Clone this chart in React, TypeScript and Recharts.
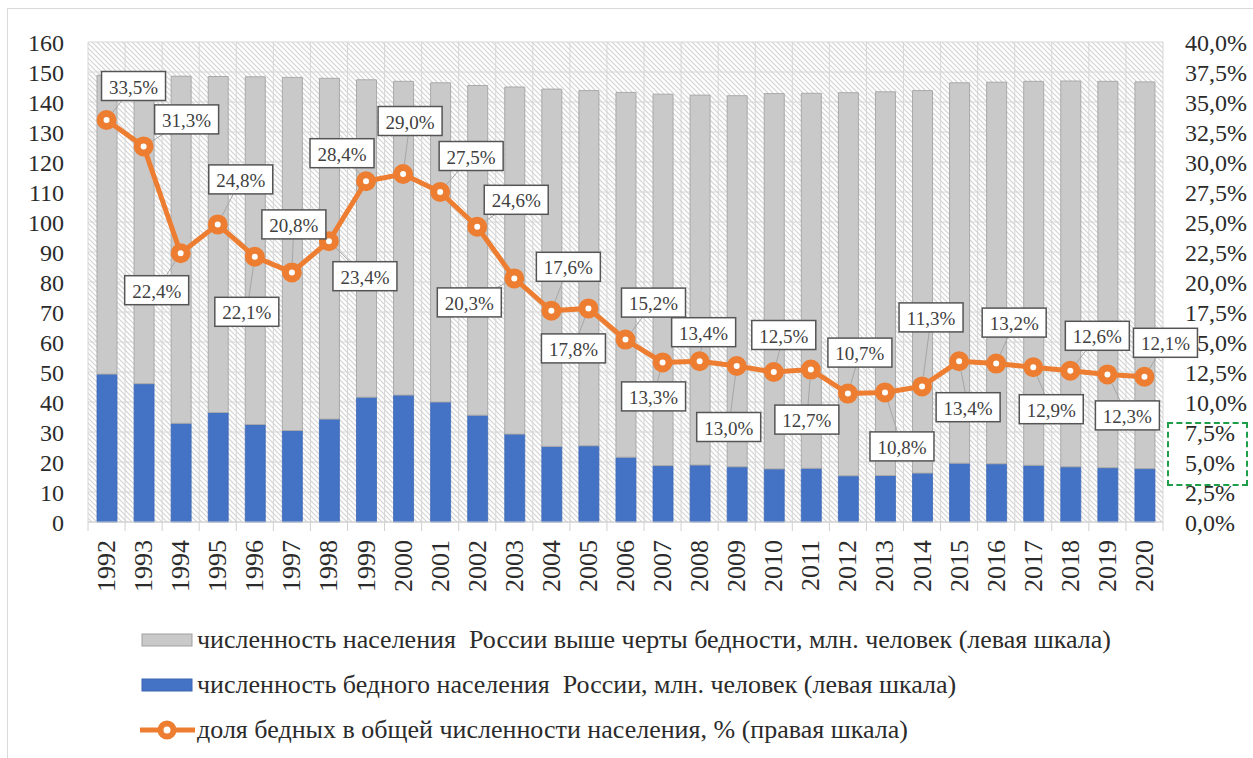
import React from 'react';
import {
  ComposedChart,
  Bar,
  Line,
  XAxis,
  YAxis,
  CartesianGrid,
  LabelList,
} from 'recharts';

const years = [
  '1992', '1993', '1994', '1995', '1996', '1997', '1998', '1999', '2000', '2001',
  '2002', '2003', '2004', '2005', '2006', '2007', '2008', '2009', '2010', '2011',
  '2012', '2013', '2014', '2015', '2016', '2017', '2018', '2019', '2020',
];

// численность бедного населения, млн. человек
const poorPop = [
  49.3, 46.1, 32.9, 36.5, 32.5, 30.5, 34.3, 41.6, 42.3, 40.0,
  35.6, 29.3, 25.2, 25.4, 21.6, 18.8, 19.0, 18.4, 17.7, 17.9,
  15.4, 15.5, 16.3, 19.6, 19.4, 18.9, 18.4, 18.1, 17.8,
];

// численность населения выше черты бедности, млн. человек
const abovePop = [
  99.6, 102.7, 115.7, 112.0, 115.9, 117.7, 113.6, 105.8, 104.6, 106.4,
  109.9, 115.7, 119.1, 118.4, 121.6, 123.8, 123.3, 123.7, 125.1, 125.0,
  127.7, 127.9, 127.5, 126.8, 127.2, 128.0, 128.6, 128.8, 128.9,
];

// доля бедных, %
const poorShare = [
  33.5, 31.3, 22.4, 24.8, 22.1, 20.8, 23.4, 28.4, 29.0, 27.5,
  24.6, 20.3, 17.6, 17.8, 15.2, 13.3, 13.4, 13.0, 12.5, 12.7,
  10.7, 10.8, 11.3, 13.4, 13.2, 12.9, 12.6, 12.3, 12.1,
];

const leftTicks = [0, 10, 20, 30, 40, 50, 60, 70, 80, 90, 100, 110, 120, 130, 140, 150, 160];
const rightTicks = [0, 2.5, 5, 7.5, 10, 12.5, 15, 17.5, 20, 22.5, 25, 27.5, 30, 32.5, 35, 37.5, 40];

const legendLabels = [
  'численность населения  России выше черты бедности, млн. человек (левая шкала)',
  'численность бедного населения  России, млн. человек (левая шкала)',
  'доля бедных в общей численности населения, % (правая шкала)',
];

// where each data label box sits relative to its point (layout only)
const LABEL_OFFSETS: [number, number][] = [
  [27, -34], [43, -27], [-24, 37], [23, -45], [-8, 55], [2, -48], [36, 35], [-24, -28], [7, -53], [31, -36],
  [39, -27], [-45, 24], [17, -44], [-15, 40], [28, -37], [-9, 34], [4, -29], [-8, 61], [10, -37], [-4, 50],
  [12, -41], [17, 54], [9, -69], [9, 46], [18, -41], [18, 42], [27, -35], [20, 41], [21, -34],
];

const data = years.map((year, i) => ({
  year,
  poor: poorPop[i],
  above: abovePop[i],
  share: poorShare[i],
}));

const W = 1253;
const H = 758;
const MARGIN = { top: 42, right: 10, bottom: 136, left: 28 };
const FONT = "'Liberation Serif', Tinos, 'DejaVu Serif', 'Noto Serif', 'Times New Roman', Times, serif";
const ORANGE = '#ED7D31';
const BLUE = '#4472C4';
const GRAY = '#C9C9C9';
const TEXT = '#2b2b2b';

const fmtPct = (v: number) => v.toFixed(1).replace('.', ',') + '%';

const PctLabel = (props: any) => {
  const { x, y, value, index } = props;
  const [dx, dy] = LABEL_OFFSETS[index] || [0, -30];
  const cx = x + dx;
  const cy = y + dy;
  const w = 64;
  const h = 29;
  const len = Math.hypot(dx, dy) || 1;
  return (
    <g>
      <line x1={x + (dx / len) * 10} y1={y + (dy / len) * 10} x2={cx} y2={cy} stroke="#a6a6a6" strokeWidth={1} />
      <rect x={cx - w / 2} y={cy - h / 2} width={w} height={h} fill="#fff" stroke="#555" strokeWidth={1.5} />
      <text x={cx} y={cy + 1} textAnchor="middle" dominantBaseline="central" style={{ fontFamily: FONT }} fontSize={19} fill="#404040">
        {fmtPct(value)}
      </text>
    </g>
  );
};

const YearTick = (props: any) => {
  const { x, y, payload, index } = props;
  const band = (W - MARGIN.left - MARGIN.right - 60 - 80) / years.length;
  const axisY = y - 18;
  return (
    <g>
      <line x1={x - band / 2} x2={x - band / 2} y1={axisY} y2={axisY + 9} stroke="#d0d0d0" />
      {index === years.length - 1 && (
        <line x1={x + band / 2} x2={x + band / 2} y1={axisY} y2={axisY + 9} stroke="#d0d0d0" />
      )}
      <text
        x={x}
        y={y}
        transform={`rotate(-90 ${x} ${y})`}
        textAnchor="end"
        dominantBaseline="central"
        style={{ fontFamily: FONT }}
        fontSize={26}
        fill={TEXT}
      >
        {payload.value}
      </text>
    </g>
  );
};

const Legend = () => (
  <div style={{ position: 'absolute', left: 0, top: 0, width: W, height: H, pointerEvents: 'none' }}>
    {legendLabels.map((label, i) => {
      const cy = 640 + i * 45;
      return (
        <div
          key={label}
          style={{ position: 'absolute', left: 140, top: cy - 16, height: 32, display: 'flex', alignItems: 'center' }}
        >
          <svg width={56} height={24} style={{ display: 'block' }}>
            {i === 0 && <rect x={2} y={6} width={50} height={12} fill={GRAY} stroke="#a0a0a0" />}
            {i === 1 && <rect x={2} y={6} width={50} height={12} fill={BLUE} stroke="#3a64b0" />}
            {i === 2 && (
              <g>
                <line x1={0} y1={12} x2={55} y2={12} stroke={ORANGE} strokeWidth={5} />
                <circle cx={27} cy={12} r={6.5} fill="#fff" stroke={ORANGE} strokeWidth={6} />
              </g>
            )}
          </svg>
          <span style={{ fontFamily: FONT, fontSize: 26, color: TEXT, whiteSpace: 'pre', marginLeft: 1 }}>{label}</span>
        </div>
      );
    })}
  </div>
);

const axisTick = { style: { fontFamily: FONT }, fontSize: 24, fill: TEXT };

export default function App() {
  return (
    <div style={{ position: 'absolute', left: 0, top: 0, width: W, height: H, background: '#fff', overflow: 'hidden', fontFamily: FONT }}>
      <div
        style={{
          position: 'absolute',
          left: 7,
          top: 8,
          width: W,
          height: H,
          borderLeft: '1px solid #d9d9d9',
          borderTop: '1px solid #d9d9d9',
        }}
      />
      <ComposedChart width={W} height={H} data={data} margin={MARGIN} barSize={20} style={{ fontFamily: FONT }}>
        <defs>
          <pattern id="hatch" patternUnits="userSpaceOnUse" width={5} height={5}>
            <rect width={5} height={5} fill="#fff" />
            <path d="M-1,-1 L6,6 M-1,4 L1,6 M4,-1 L6,1" stroke="#d4d4d4" strokeWidth={1.2} />
          </pattern>
        </defs>
        <CartesianGrid
          yAxisId="left"
          stroke="#d6d6d6"
          fill="url(#hatch)"
          fillOpacity={1}
          verticalCoordinatesGenerator={({ offset }: any) =>
            Array.from({ length: years.length + 1 }, (_, i) => offset.left + (offset.width * i) / years.length)
          }
        />
        <XAxis
          dataKey="year"
          height={100}
          interval={0}
          tickLine={false}
          tickMargin={12}
          axisLine={{ stroke: '#d0d0d0' }}
          tick={<YearTick />}
        />
        <YAxis
          yAxisId="left"
          width={60}
          domain={[0, 160]}
          ticks={leftTicks}
          interval={0}
          axisLine={false}
          tickLine={false}
          tickMargin={18}
          tick={axisTick}
        />
        <YAxis
          yAxisId="right"
          orientation="right"
          width={80}
          domain={[0, 40]}
          ticks={rightTicks}
          interval={0}
          axisLine={false}
          tickLine={false}
          tickMargin={16}
          tickFormatter={fmtPct}
          tick={{ ...axisTick, textAnchor: 'start' }}
        />
        <Bar yAxisId="left" dataKey="poor" stackId="pop" fill={BLUE} stroke="#3d68b5" strokeWidth={0.8} isAnimationActive={false} />
        <Bar yAxisId="left" dataKey="above" stackId="pop" fill={GRAY} stroke="#a9a9a9" strokeWidth={1} isAnimationActive={false} />
        <Line
          yAxisId="right"
          dataKey="share"
          stroke={ORANGE}
          strokeWidth={5}
          dot={{ r: 6.5, fill: '#fff', stroke: ORANGE, strokeWidth: 7 }}
          activeDot={false}
          isAnimationActive={false}
        >
          <LabelList dataKey="share" content={<PctLabel />} />
        </Line>
      </ComposedChart>
      <div
        style={{
          position: 'absolute',
          left: 1167,
          top: 422,
          width: 77,
          height: 60,
          border: '2.5px dashed #1e9e48',
          pointerEvents: 'none',
        }}
      />
      <Legend />
    </div>
  );
}
